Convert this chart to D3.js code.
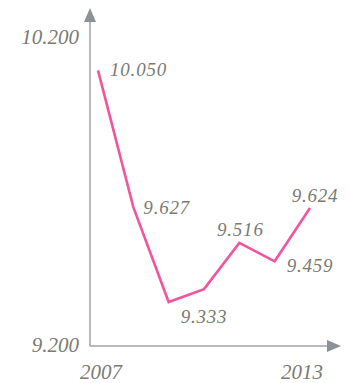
<!DOCTYPE html>
<html>
<head>
<meta charset="utf-8">
<script src="https://cdn.jsdelivr.net/npm/d3@7/dist/d3.min.js"></script>
<style>
  html, body { margin: 0; padding: 0; background: #fff; }
  svg { display: block; }
  text { font-family: "Liberation Serif", "DejaVu Serif", serif; font-style: italic; fill: #7a7a72; }
</style>
</head>
<body>
<svg id="chart" width="350" height="383"></svg>
<script>
// Yearly series; the 2010 point carries no label.
const years = [2007, 2008, 2009, 2010, 2011, 2012, 2013];
const values = [10.050, 9.627, 9.333, 9.373, 9.516, 9.459, 9.624];
const showLabel = [true, true, true, false, true, true, true];
const yTickLabels = ["9.200", "10.200"];
const xTickLabels = ["2007", "2013"];

const svg = d3.select("#chart");
const fmt = d3.format(".3f");

const x = d3.scaleLinear().domain([2007, 2013]).range([98, 310]);
const y = d3.scaleLinear().domain([9.2, 10.2]).range([345, 22]);

const originX = 90, originY = 346;
const axisColor = "#a3a3a3", arrowColor = "#8b9196";

// axes
svg.append("line").attr("x1", originX).attr("x2", originX)
  .attr("y1", originY).attr("y2", 21)
  .attr("stroke", axisColor).attr("stroke-width", 1.5);
svg.append("line").attr("x1", originX).attr("x2", 328)
  .attr("y1", originY).attr("y2", originY)
  .attr("stroke", axisColor).attr("stroke-width", 1.5);

// arrow heads
svg.append("path").attr("d", `M${originX},8 L${originX + 6},22 L${originX - 6},22 Z`).attr("fill", arrowColor);
svg.append("path").attr("d", `M341,${originY} L327,${originY - 6} L327,${originY + 6} Z`).attr("fill", arrowColor);

// y labels
svg.append("text").attr("x", 79).attr("y", y(9.2) + 7)
  .attr("text-anchor", "end").attr("font-size", 21).text(yTickLabels[0]);
svg.append("text").attr("x", 79).attr("y", y(10.2) + 22)
  .attr("text-anchor", "end").attr("font-size", 21).text(yTickLabels[1]);

// x labels
svg.append("text").attr("x", x(2007) + 3).attr("y", 379)
  .attr("text-anchor", "middle").attr("font-size", 21).text(xTickLabels[0]);
svg.append("text").attr("x", x(2013) - 8).attr("y", 379)
  .attr("text-anchor", "middle").attr("font-size", 21).text(xTickLabels[1]);

// line
const data = years.map((yr, i) => ({ yr, v: values[i], show: showLabel[i] }));
svg.append("path").datum(data)
  .attr("fill", "none").attr("stroke", "#f0559e").attr("stroke-width", 2.6)
  .attr("d", d3.line().x(d => x(d.yr)).y(d => y(d.v)));

// value labels: [dx, dy, anchor]
const placement = [
  [12, 6, "start"],
  [10, 7, "start"],
  [12, 21, "start"],
  [0, 0, "start"],
  [1, -7, "middle"],
  [12, 11, "start"],
  [5, -6, "middle"]
];
svg.selectAll("text.val").data(data.filter(d => d.show)).join("text")
  .attr("class", "val")
  .attr("font-size", 19)
  .attr("letter-spacing", 0.8)
  .attr("x", d => x(d.yr) + placement[years.indexOf(d.yr)][0])
  .attr("y", d => y(d.v) + placement[years.indexOf(d.yr)][1])
  .attr("text-anchor", d => placement[years.indexOf(d.yr)][2])
  .text(d => fmt(d.v));
</script>
</body>
</html>
